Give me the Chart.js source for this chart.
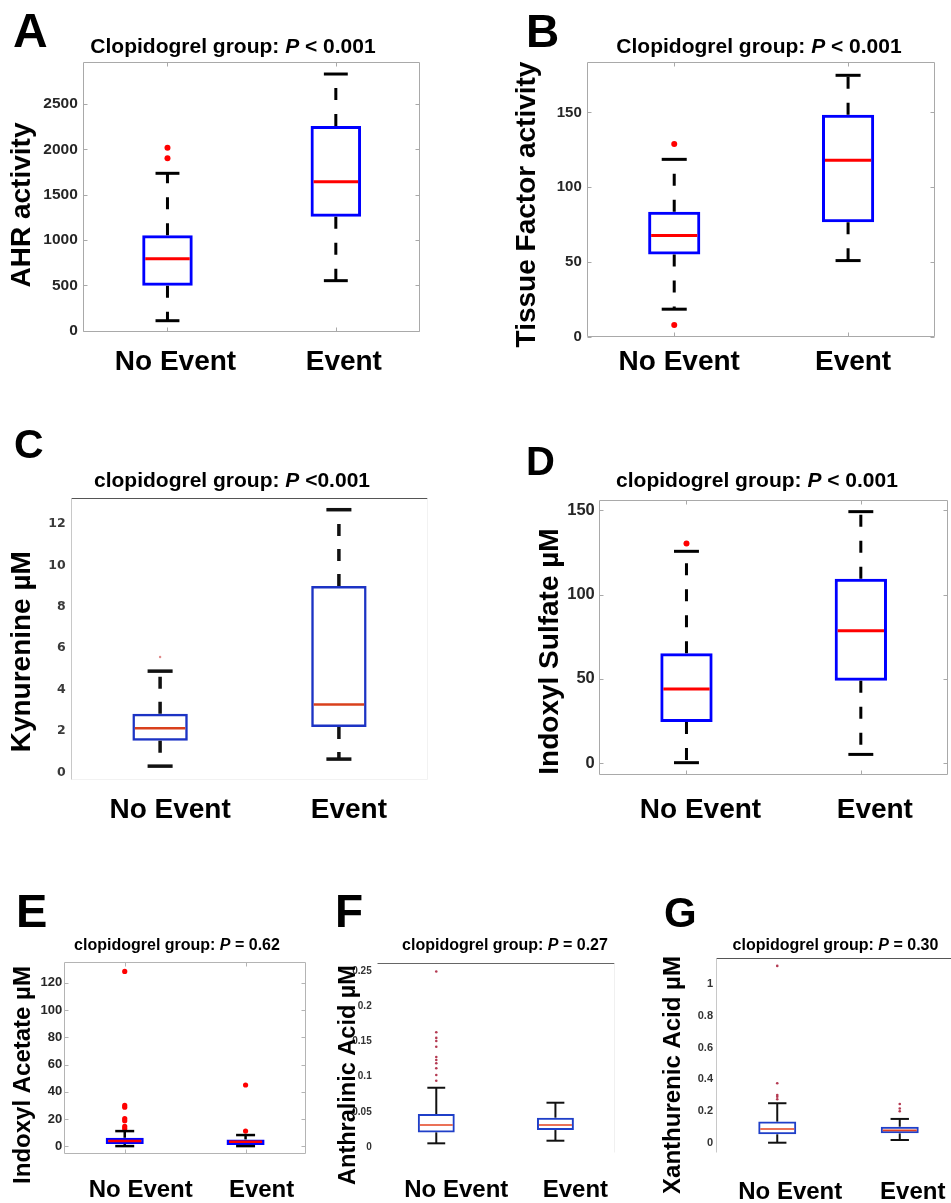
<!DOCTYPE html>
<html>
<head>
<meta charset="utf-8">
<script src="https://cdn.jsdelivr.net/npm/chart.js@4.4.1/dist/chart.umd.min.js"></script>
<style>
  html, body { margin: 0; padding: 0; background: #fff; overflow: hidden; width: 951px; height: 1203px; }
  canvas.panel { position: absolute; }
</style>
</head>
<body>
<script>
// groups shared by every panel
const groups = ['No Event', 'Event'];

// each row: [lower whisker, Q1, median, Q3, upper whisker]
const ahrStats = [[109, 495, 793, 1052, 1736], [551, 1257, 1643, 2258, 2832]];
const ahrOutliers = [[2019, 1902], []];
const ahrTicks = [0, 500, 1000, 1500, 2000, 2500];

const tfStats = [[18.4, 55.0, 67.6, 83.6, 118.6], [50.9, 76.6, 118.0, 148.4, 174.8]];
const tfOutliers = [[128.9, 7.9], []];
const tfTicks = [0, 50, 100, 150];

const kynStats = [[0.30, 1.53, 2.13, 2.83, 4.89], [0.64, 2.19, 3.28, 9.0, 12.69]];
const kynOutliers = [[5.57], []];
const kynTicks = [0, 2, 4, 6, 8, 10, 12];

const isStats = [[0.4, 24.5, 44.0, 65.2, 125.6], [5.3, 48.9, 78.6, 109.4, 149.1]];
const isOutliers = [[130.3], []];
const isTicks = [0, 50, 100, 150];

const iaStats = [[0.2, 1.7, 3.9, 6.3, 11.2], [0.2, 1.0, 3.4, 5.1, 8.3]];
const iaOutliers = [[128.3, 30, 28.7, 20.3, 18.8, 14.6, 13], [45, 11.2]];
const iaTicks = [0, 20, 40, 60, 80, 100, 120];

const aaStats = [[0.0057, 0.0212, 0.0316, 0.0472, 0.0844], [0.0094, 0.0245, 0.0316, 0.042, 0.0632]];
const aaOutliers = [[0.249, 0.163, 0.155, 0.1506, 0.1425, 0.128, 0.1237, 0.119, 0.112, 0.1024, 0.0943], []];
const aaTicks = [0, 0.05, 0.1, 0.15, 0.2, 0.25];

const xaStats = [[0.0, 0.053, 0.086, 0.133, 0.249], [0.017, 0.059, 0.078, 0.101, 0.15]];
const xaOutliers = [[1.115, 0.375, 0.301, 0.29, 0.274], [0.244, 0.216, 0.198]];
const xaTicks = [0, 0.2, 0.4, 0.6, 0.8, 1];

const FONT = '"Liberation Sans", Arial, Helvetica, sans-serif';

// line styles for the boxes
const crisp = { box: '#0000ff', boxLine: 3, med: '#ff0000', medLine: 3, whisk: '#000', whiskLine: 3, dash: [12, 14], dot: '#ff0000', dotR: 3 };
const scanned = { box: '#1c33c4', boxLine: 2.5, med: '#d9401c', medLine: 2.5, whisk: '#111', whiskLine: 3.5, dash: [12, 13], dot: '#e08a8a', dotR: 1.2 };
const small = { box: '#0000ff', boxLine: 2.5, med: '#ff0000', medLine: 2.5, whisk: '#000', whiskLine: 2.5, dash: [], dot: '#ff0000', dotR: 2.6 };
const tiny = { box: '#1f3fc8', boxLine: 2, med: '#e3421f', medLine: 1.6, whisk: '#111', whiskLine: 2, dash: [], dot: '#b43a52', dotR: 1.3 };

const GRAY = '#a9a9a9';

const panels = [
  { canvas: [0, 0, 475, 400], plot: [83.3, 61.7, 420, 332.3], yRange: [-19, 2968],
    stats: ahrStats, outliers: ahrOutliers, ticks: ahrTicks, look: crisp,
    tickFont: { family: FONT, size: 15.5, weight: 'bold' }, tickColor: '#262626', tickPad: 5.5,
    letter: { text: 'A', x: 13, y: 47, size: 48 },
    title: { pre: 'Clopidogrel group: ', post: ' < 0.001', x: 233, y: 53, size: 21 },
    yTitle: { text: 'AHR activity', x: 30, y: 205, size: 28 },
    xFont: 28, xPad: 13, xShift: 8,
    frame: [GRAY, GRAY, GRAY, GRAY], marks: GRAY, boxW: 0.30, capW: 0.142 },
  { canvas: [475, 0, 476, 400], plot: [587.3, 62.3, 935, 336.7], yRange: [0, 183.5],
    stats: tfStats, outliers: tfOutliers, ticks: tfTicks, look: crisp,
    tickFont: { family: FONT, size: 15, weight: 'bold' }, tickColor: '#262626', tickPad: 5.5,
    letter: { text: 'B', x: 526, y: 47, size: 46 },
    title: { pre: 'Clopidogrel group: ', post: ' < 0.001', x: 759, y: 53, size: 21 },
    yTitle: { text: 'Tissue Factor activity', x: 535, y: 204.5, size: 28 },
    xFont: 28, xPad: 9, xShift: 5,
    frame: [GRAY, GRAY, GRAY, GRAY], marks: GRAY, boxW: 0.30, capW: 0.144 },
  { canvas: [0, 400, 475, 460], plot: [70.7, 497.7, 428.3, 780], yRange: [-0.37, 13.27],
    stats: kynStats, outliers: kynOutliers, ticks: kynTicks, look: scanned,
    tickFont: { family: '"DejaVu Sans", sans-serif', size: 12.5, weight: 'bold' }, tickColor: '#3a3a3a', tickPad: 5,
    letter: { text: 'C', x: 14, y: 457.5, size: 41 },
    title: { pre: 'clopidogrel group: ', post: ' <0.001', x: 232, y: 487, size: 21 },
    yTitle: { text: 'Kynurenine µM', x: 30, y: 651.7, size: 28 },
    xFont: 28, xPad: 13, xShift: 10,
    frame: ['#555', '#f2f2f2', '#f2f2f2', '#c8c8c8'], marks: null, boxW: 0.31, capW: 0.14 },
  { canvas: [475, 400, 476, 460], plot: [599.3, 500, 948.3, 775], yRange: [-6.9, 156],
    stats: isStats, outliers: isOutliers, ticks: isTicks, look: crisp,
    tickFont: { family: FONT, size: 16.5, weight: 'bold' }, tickColor: '#262626', tickPad: 4.5,
    letter: { text: 'D', x: 526, y: 475, size: 40 },
    title: { pre: 'clopidogrel group: ', post: ' < 0.001', x: 757, y: 486.7, size: 21 },
    yTitle: { text: 'Indoxyl Sulfate µM', x: 558, y: 651.5, size: 28 },
    xFont: 28, xPad: 18.5, xShift: 14,
    frame: [GRAY, GRAY, GRAY, GRAY], marks: GRAY, boxW: 0.30, capW: 0.143 },
  { canvas: [0, 860, 320, 343], plot: [64.3, 962.3, 306, 1154], yRange: [-5.6, 135],
    stats: iaStats, outliers: iaOutliers, ticks: iaTicks, look: small,
    tickFont: { family: FONT, size: 13, weight: 'bold' }, tickColor: '#262626', tickPad: 2,
    letter: { text: 'E', x: 16, y: 927, size: 47 },
    title: { pre: 'clopidogrel group: ', post: ' = 0.62', x: 177, y: 950, size: 16 },
    yTitle: { text: 'Indoxyl Acetate µM', x: 30, y: 1075, size: 24 },
    xFont: 24, xPad: 22, xShift: 16,
    frame: ['#b4b4b4', '#b4b4b4', '#b4b4b4', '#b4b4b4'], marks: '#b4b4b4', boxW: 0.315, capW: 0.157 },
  { canvas: [320, 860, 320, 343], plot: [376.7, 963.3, 615, 1153], yRange: [-0.008, 0.2606],
    stats: aaStats, outliers: aaOutliers, ticks: aaTicks, look: tiny,
    tickFont: { family: FONT, size: 10, weight: 'bold' }, tickColor: '#333', tickPad: 5,
    letter: { text: 'F', x: 335, y: 926.7, size: 46 },
    title: { pre: 'clopidogrel group: ', post: ' = 0.27', x: 505, y: 950, size: 16 },
    yTitle: { text: 'Anthralinic Acid µM', x: 355, y: 1075, size: 23.5 },
    xFont: 24, xPad: 23, xShift: 20,
    frame: ['#666', '#f0f0f0', null, null], marks: null, boxW: 0.31, capW: 0.15 },
  { canvas: [640, 860, 330, 343], plot: [716, 958.3, 961, 1152.7], yRange: [-0.063, 1.163],
    stats: xaStats, outliers: xaOutliers, ticks: xaTicks, look: tiny,
    tickFont: { family: FONT, size: 11, weight: 'bold' }, tickColor: '#333', tickPad: 3,
    letter: { text: 'G', x: 664, y: 926.7, size: 42 },
    title: { pre: 'clopidogrel group: ', post: ' = 0.30', x: 835.5, y: 950, size: 16 },
    yTitle: { text: 'Xanthurenic Acid µM', x: 680, y: 1075, size: 24 },
    xFont: 24, xPad: 25, xShift: 13,
    frame: ['#555', null, null, '#c8c8c8'], marks: null, boxW: 0.31, capW: 0.15 }
];

function seg(ctx, x1, y1, x2, y2) {
  ctx.beginPath();
  ctx.moveTo(x1, y1);
  ctx.lineTo(x2, y2);
  ctx.stroke();
}

// whiskers, caps, medians, frame and panel labels
function boxParts(p) {
  const L = p.look;
  const [ox, oy] = p.canvas;
  return {
    id: 'boxParts',
    beforeDatasetsDraw(chart) {
      const { ctx, chartArea: a, scales: { x, y } } = chart;
      const l = Math.round(a.left) + 0.5, r = Math.round(a.right) - 0.5;
      const t = Math.round(a.top) + 0.5, b = Math.round(a.bottom) - 0.5;
      const sides = [[l, t, r, t], [r, t, r, b], [l, b, r, b], [l, t, l, b]];
      ctx.save();
      ctx.lineWidth = 1;
      p.frame.forEach((c, i) => {
        if (!c) return;
        ctx.strokeStyle = c;
        seg(ctx, ...sides[i]);
      });
      if (p.marks) {
        ctx.strokeStyle = p.marks;
        p.ticks.forEach(v => {
          const yy = Math.round(y.getPixelForValue(v)) + 0.5;
          seg(ctx, l, yy, l + 4, yy);
          seg(ctx, r, yy, r - 4, yy);
        });
        groups.forEach((g, i) => {
          const xx = Math.round(x.getPixelForValue(i)) + 0.5;
          seg(ctx, xx, t, xx, t + 4);
          seg(ctx, xx, b, xx, b - 4);
        });
      }
      ctx.restore();
    },
    afterDatasetsDraw(chart) {
      const { ctx, scales: { x, y } } = chart;
      const cw = x.getPixelForValue(1) - x.getPixelForValue(0);
      ctx.save();
      ctx.lineCap = 'butt';
      p.stats.forEach((s, i) => {
        const cx = x.getPixelForValue(i);
        const half = cw * p.boxW / 2, capHalf = cw * p.capW / 2;
        const [lo, q1, med, q3, hi] = s.map(v => y.getPixelForValue(v));
        ctx.strokeStyle = L.whisk;
        ctx.lineWidth = L.whiskLine;
        ctx.setLineDash(L.dash);
        seg(ctx, cx, q3, cx, hi);
        seg(ctx, cx, q1, cx, lo);
        ctx.setLineDash([]);
        seg(ctx, cx - capHalf, hi, cx + capHalf, hi);
        seg(ctx, cx - capHalf, lo, cx + capHalf, lo);
        ctx.strokeStyle = L.med;
        ctx.lineWidth = L.medLine;
        seg(ctx, cx - half + L.boxLine, med, cx + half - L.boxLine, med);
      });
      ctx.restore();
    },
    afterDraw(chart) {
      const { ctx } = chart;
      ctx.save();
      ctx.fillStyle = '#000';
      ctx.textAlign = 'left';
      ctx.textBaseline = 'alphabetic';
      // panel letter
      ctx.font = `bold ${p.letter.size}px ${FONT}`;
      ctx.fillText(p.letter.text, p.letter.x - ox, p.letter.y - oy);
      // title with italic P
      const T = p.title;
      const pieces = [[T.pre, 'bold'], ['P', 'italic bold'], [T.post, 'bold']];
      let total = 0;
      pieces.forEach(([s, st]) => { ctx.font = `${st} ${T.size}px ${FONT}`; total += ctx.measureText(s).width; });
      let tx = T.x - ox - total / 2;
      pieces.forEach(([s, st]) => {
        ctx.font = `${st} ${T.size}px ${FONT}`;
        ctx.fillText(s, tx, T.y - oy);
        tx += ctx.measureText(s).width;
      });
      // rotated y axis title
      const Y = p.yTitle;
      ctx.translate(Y.x - ox, Y.y - oy);
      ctx.rotate(-Math.PI / 2);
      ctx.textAlign = 'center';
      ctx.font = `bold ${Y.size}px ${FONT}`;
      ctx.fillText(Y.text, 0, 0);
      ctx.restore();
    }
  };
}

panels.forEach(p => {
  const [ox, oy, w, h] = p.canvas;
  const [pl, pt, pr, pb] = p.plot;
  const cv = document.createElement('canvas');
  cv.className = 'panel';
  cv.width = w;
  cv.height = h;
  cv.style.left = ox + 'px';
  cv.style.top = oy + 'px';
  cv.style.width = w + 'px';
  cv.style.height = h + 'px';
  document.body.appendChild(cv);

  const points = p.outliers.flatMap((arr, i) => arr.map(v => ({ x: groups[i], y: v })));

  new Chart(cv, {
    type: 'bar',
    data: {
      labels: groups,
      datasets: [
        {
          type: 'bar',
          data: p.stats.map(s => [s[1], s[3]]),
          backgroundColor: 'rgba(0,0,0,0)',
          borderColor: p.look.box,
          borderWidth: p.look.boxLine,
          borderSkipped: false,
          barPercentage: p.boxW,
          categoryPercentage: 1
        },
        {
          type: 'line',
          data: points,
          showLine: false,
          pointRadius: p.look.dotR,
          pointHoverRadius: p.look.dotR,
          pointBackgroundColor: p.look.dot,
          pointBorderWidth: 0
        }
      ]
    },
    options: {
      responsive: false,
      animation: false,
      devicePixelRatio: 1,
      events: [],
      layout: { padding: { left: 0, top: pt - oy, right: ox + w - pr, bottom: 0 } },
      plugins: { legend: { display: false }, tooltip: { enabled: false } },
      scales: {
        x: {
          type: 'category',
          offset: true,
          grid: { display: false, drawTicks: false },
          border: { display: false },
          ticks: {
            font: { family: FONT, size: p.xFont, weight: 'bold' },
            color: '#000',
            padding: p.xPad,
            labelOffset: p.xShift,
            maxRotation: 0,
            autoSkip: false
          },
          afterFit: s => { s.height = oy + h - pb; }
        },
        y: {
          type: 'linear',
          min: p.yRange[0],
          max: p.yRange[1],
          grid: { display: false, drawTicks: false },
          border: { display: false },
          ticks: {
            font: p.tickFont,
            color: p.tickColor,
            padding: p.tickPad,
            callback: v => String(v)
          },
          afterBuildTicks: s => { s.ticks = p.ticks.map(v => ({ value: v })); },
          afterFit: s => { s.width = pl - ox; }
        }
      }
    },
    plugins: [boxParts(p)]
  });
});
</script>
</body>
</html>
